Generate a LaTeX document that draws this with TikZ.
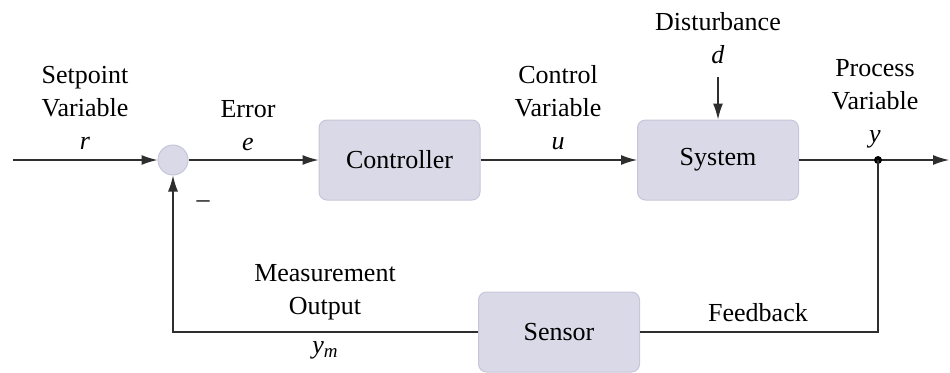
\documentclass[tikz,border=0pt]{standalone}
\usepackage{fontspec}
\setmainfont{Liberation Serif}
\usetikzlibrary{arrows.meta}
\definecolor{boxfill}{HTML}{D9D9E7}
\definecolor{boxline}{HTML}{C6C6DA}
\definecolor{wire}{HTML}{2E2E2E}
\tikzset{
  blockbox/.style={draw=boxline, fill=boxfill, line width=1pt, rounded corners=8pt,
    minimum width=161pt, minimum height=80pt, inner sep=0pt},
  sumnode/.style={circle, draw=boxline, fill=boxfill, line width=1pt, minimum size=30pt, inner sep=0pt},
  signal/.style={draw=wire, line width=1.3pt, -{Latex[length=16pt,width=10pt]}},
  plainwire/.style={draw=wire, line width=1.3pt},
  tag/.style={align=center, inner sep=0pt, font=\fontsize{26}{33}\selectfont},
}
\newcommand{\sig}[1]{\textit{#1}}
\begin{document}
\begin{tikzpicture}[x=1pt, y=-1pt]
  \useasboundingbox (0,0) rectangle (950,372);

  % blocks
  \node[sumnode] (sum) at (173,160) {};
  \node[blockbox, tag] (ctrl) at (399.5,160) {Controller};
  \node[blockbox, tag] (sys) at (718,160) {System};
  \node[blockbox, tag] (sens) at (559,332) {Sensor};

  % free ends and branch point
  \coordinate (in) at (13,160);
  \coordinate (out) at (949,160);
  \coordinate (branch) at (878,160);
  \coordinate (dist) at (718,77);
  \coordinate (corner) at (173,332);

  % forward path
  \draw[signal] (in) -- (sum);
  \draw[signal] (sum) -- (ctrl);
  \draw[signal] (ctrl) -- (sys);
  \draw[plainwire] (sys) -- (branch);
  \draw[signal] (branch) -- (out);
  \draw[signal] (dist) -- (sys);
  \fill[black] (branch) circle (4pt);

  % feedback path
  \draw[plainwire] (branch) |- (sens);
  \draw[signal] (sens) -- (corner) -- (sum);

  % signal labels
  \node[tag] (lr) at (85,108) {Setpoint\\Variable\\\sig{r}};
  \node[tag] (le) at (248,126) {Error\\\sig{e}};
  \node[tag] (lu) at (558,108) {Control\\Variable\\\sig{u}};
  \node[tag] (ld) at (718,38) {Disturbance\\\sig{d}};
  \node[tag] (ly) at (875,104) {Process\\Variable\\\sig{y}};
  \node[tag] (lm) at (325,292) {Measurement\\Output};
  \node[tag] (lym) at (325,350) {\sig{y}\raisebox{-0.35ex}{\fontsize{19}{19}\selectfont\sig{m}}};
  \node[tag] (lfb) at (758,313) {Feedback};
  \node[tag] (lminus) at (203,204) {--};
\end{tikzpicture}
\end{document}
